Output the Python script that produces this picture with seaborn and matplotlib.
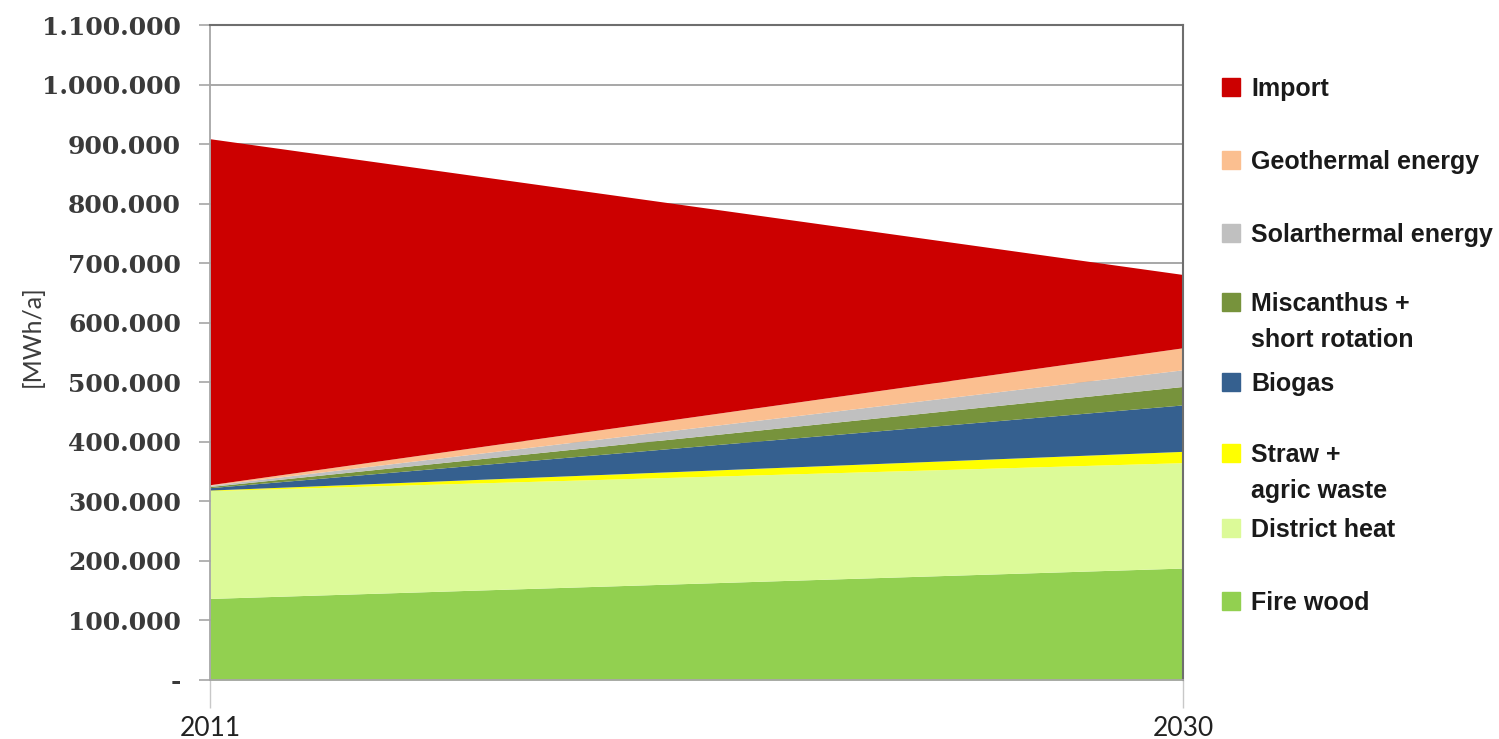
import matplotlib
matplotlib.use("Agg")
import matplotlib.pyplot as plt
import matplotlib.patches as mpatches
from matplotlib.ticker import FuncFormatter, FixedLocator
import seaborn as sns

# ---- data ----
years = [2011, 2030]
series_names = ["Fire wood", "District heat", "Straw +\nagric waste", "Biogas",
                "Miscanthus +\nshort rotation", "Solarthermal energy",
                "Geothermal energy", "Import"]
fire_wood = [137000, 188000]
district_heat = [181000, 177000]
straw = [1000, 19000]
biogas = [4000, 78000]
miscanthus = [2000, 31000]
solarthermal = [2000, 28000]
geothermal = [1000, 37000]
imports = [581000, 123000]
colors = ["#92d050", "#dcfa98", "#ffff00", "#35608f", "#77933c",
          "#c0c0c0", "#fbbf90", "#cc0000"]
y_ticks = list(range(0, 1100001, 100000))

sns.set_theme(style="white")
plt.rcParams["font.family"] = ["Liberation Sans", "DejaVu Sans"]

fig = plt.figure(figsize=(14.99, 7.39), dpi=100)
ax = fig.add_axes([210 / 1499, 1 - 680 / 739, (1183 - 210) / 1499, (680 - 25) / 739])

ax.stackplot(years, fire_wood, district_heat, straw, biogas, miscanthus,
             solarthermal, geothermal, imports, colors=colors, linewidth=0)

ax.set_xlim(years[0], years[-1])
ax.set_ylim(0, 1100000)
ax.yaxis.set_major_locator(FixedLocator(y_ticks))
ax.set_xticks(years)
ax.set_xticklabels([str(y) for y in years], fontfamily="Lato", fontsize=19, color="#222222")


def fmt(v, pos):
    if v == 0:
        return "-"
    return f"{int(v):,}".replace(",", ".")


ax.yaxis.set_major_formatter(FuncFormatter(fmt))
for lbl in ax.get_yticklabels():
    lbl.set_fontfamily(["DejaVu Serif"])
    lbl.set_fontweight("bold")
    lbl.set_fontsize(18)
    lbl.set_color("#3a3a3a")

ax.grid(axis="y", color="#a0a0a0", linewidth=1.3)
ax.set_axisbelow(True)

for side in ["left", "bottom"]:
    ax.spines[side].set_color("#a6a6a6")
    ax.spines[side].set_linewidth(1.3)
for side in ["top", "right"]:
    ax.spines[side].set_color("#6e6e6e")
    ax.spines[side].set_linewidth(1.5)

ax.tick_params(axis="y", length=8, width=1.2, color="#a6a6a6", left=True, pad=13)
ax.tick_params(axis="x", length=20, width=1.0, color="#c8c8c8", bottom=True, pad=6)

ax.set_ylabel("[MWh/a]", fontfamily="Lato", fontsize=18, color="#3c3c3c")
ax.yaxis.set_label_coords(-0.171, 0.525)

# ---- legend (manual, top to bottom) ----
order = list(range(len(series_names)))[::-1]
legend_rows_px = [87, 160, 233, 302, 382, 453, 528, 601]
for ypx, idx in zip(legend_rows_px, order):
    yf = 1 - ypx / 739
    fig.patches.append(mpatches.Rectangle((1222 / 1499, yf - 9 / 739), 18 / 1499, 18 / 739,
                                          transform=fig.transFigure, color=colors[idx]))
    fig.text(1251 / 1499, yf + 10 / 739, series_names[idx], transform=fig.transFigure,
             ha="left", va="top", fontsize=18, fontweight="bold", color="#1a1a1a",
             linespacing=1.65)

fig.savefig("out.png", dpi=100)
